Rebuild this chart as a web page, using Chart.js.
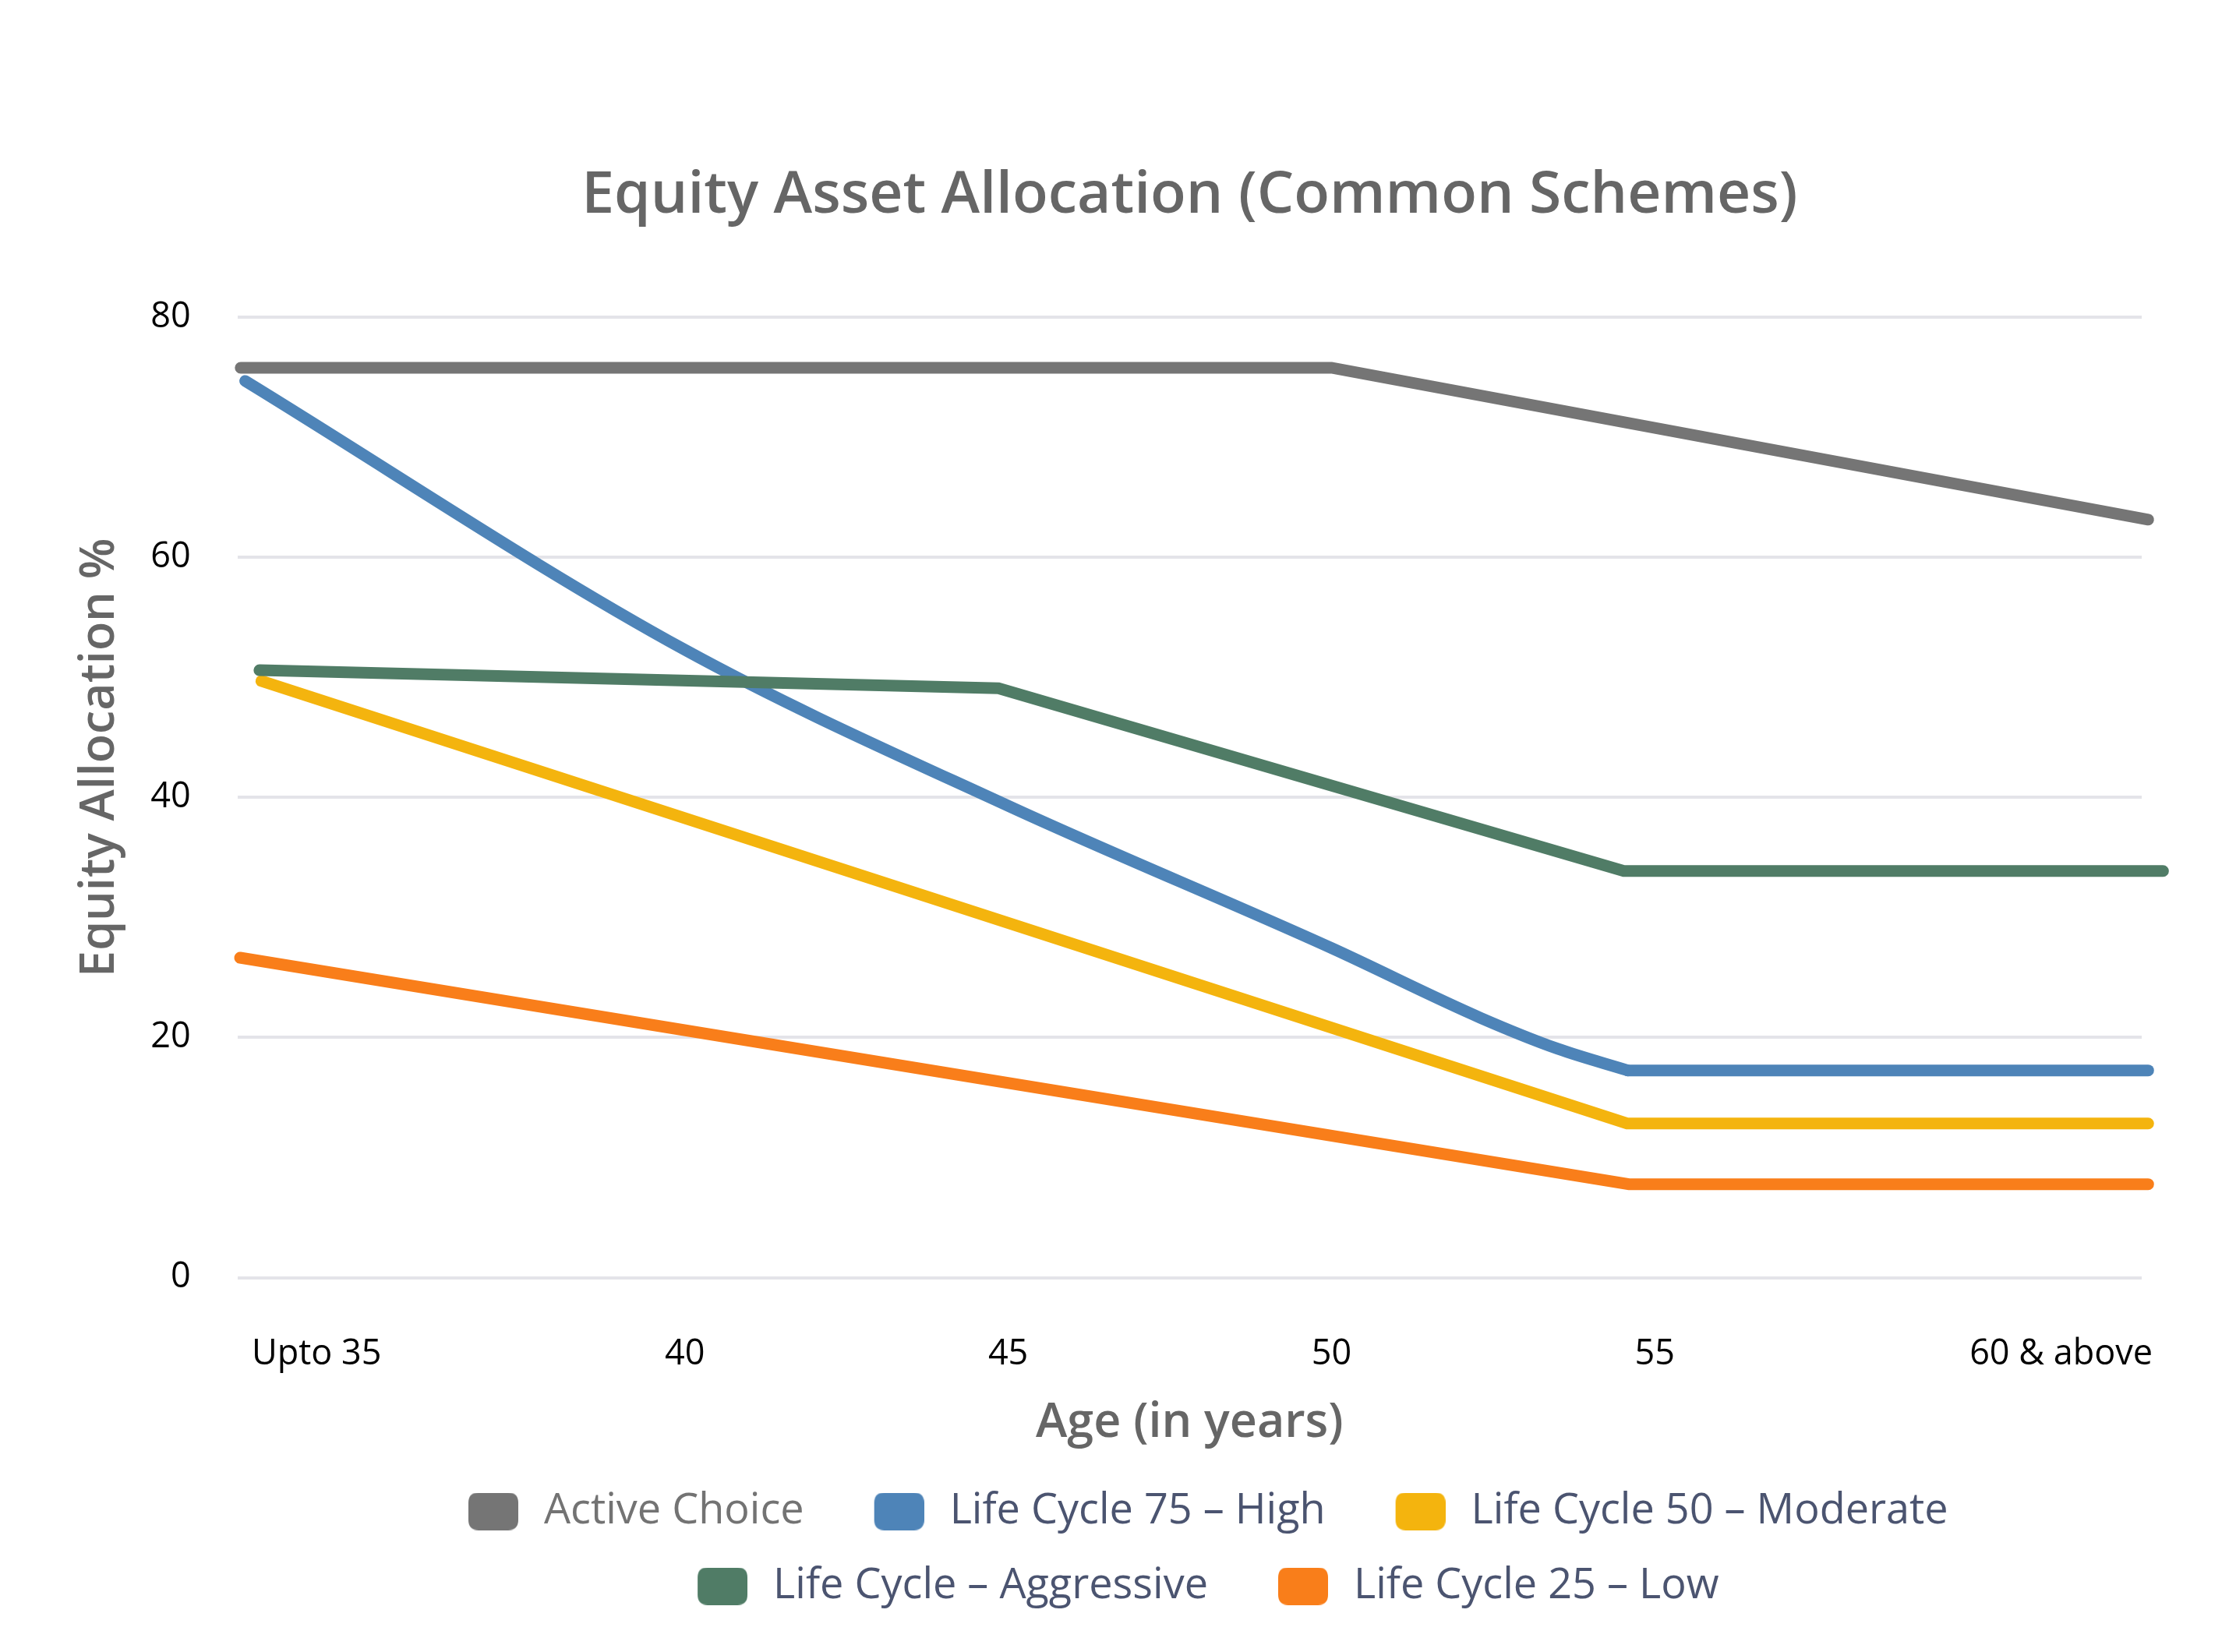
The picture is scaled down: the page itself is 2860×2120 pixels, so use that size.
<!DOCTYPE html>
<html>
<head>
<meta charset="utf-8">
<script src="https://cdn.jsdelivr.net/npm/chart.js@4.4.1/dist/chart.umd.min.js"></script>
<style>
  html, body { margin: 0; padding: 0; background: #ffffff; }
  canvas { display: block; }
</style>
</head>
<body>
<canvas id="chart" width="2860" height="2120" style="width:2860px;height:2120px"></canvas>
<script>
// ---- Data ----
const seriesLabels = ['Active Choice', 'Life Cycle 75 – High', 'Life Cycle 50 – Moderate', 'Life Cycle – Aggressive', 'Life Cycle 25 – Low'];
const xTickValues = [33.3, 40, 45, 50, 55, 62.7];
const xTickLabels = ['Upto 35', '40', '45', '50', '55', '60 & above'];
const yTickValues = [0, 20, 40, 60, 80];

const activeAges   = [33.13, 50.0, 62.63];
const activeValues = [75.8, 75.8, 63.15];

// Life Cycle 75 – High: smooth (curved) part, then the flat tail
const lc75CurveAges   = [33.2, 40, 45, 50, 52.3, 53.5, 54.58];
const lc75CurveValues = [74.7, 52.3, 39.3, 27.45, 21.65, 19.06, 17.26];
const lc75TailAges    = [54.58, 62.63];
const lc75TailValues  = [17.26, 17.26];

const lc50Ages   = [33.45, 54.57, 62.63];
const lc50Values = [49.7, 12.84, 12.84];

const aggAges   = [33.42, 44.85, 54.52, 62.86];
const aggValues = [50.6, 49.1, 33.87, 33.87];

const lc25Ages   = [33.12, 54.6, 62.63];
const lc25Values = [26.65, 7.78, 7.78];

// ---- Styling ----
const lineColors = ['#757575', '#4e84b8', '#f4b40e', '#507c66', '#f97e1a'];
const legendTextColors = ['#737373', '#4b5470', '#4b5470', '#4b5470', '#4b5470'];
const FONT = "'Open Sans', 'Noto Sans', sans-serif";

function zip(xs, ys) { return xs.map((x, i) => ({ x: x, y: ys[i] })); }

function swatch(color) {
  const pad = 42, w = 64, h = 48, r = 13;
  const c = document.createElement('canvas');
  c.width = pad + w; c.height = h;
  const g = c.getContext('2d');
  g.fillStyle = color;
  g.beginPath();
  g.moveTo(pad + r, 0);
  g.lineTo(pad + w - r, 0);
  g.quadraticCurveTo(pad + w, 0, pad + w, r);
  g.lineTo(pad + w, h - r);
  g.quadraticCurveTo(pad + w, h, pad + w - r, h);
  g.lineTo(pad + r, h);
  g.quadraticCurveTo(pad, h, pad, h - r);
  g.lineTo(pad, r);
  g.quadraticCurveTo(pad, 0, pad + r, 0);
  g.closePath();
  g.fill();
  return c;
}

// [series index, data, smooth?]
const parts = [
  [0, zip(activeAges, activeValues), false],
  [1, zip(lc75CurveAges, lc75CurveValues), true],
  [1, zip(lc75TailAges, lc75TailValues), false],
  [2, zip(lc50Ages, lc50Values), false],
  [3, zip(aggAges, aggValues), false],
  [4, zip(lc25Ages, lc25Values), false]
];

const datasets = parts.map(([s, d, smooth]) => ({
  label: seriesLabels[s],
  seriesIndex: s,
  data: d,
  borderColor: lineColors[s],
  backgroundColor: lineColors[s],
  borderWidth: 15,
  borderCapStyle: 'round',
  borderJoinStyle: 'miter',
  pointRadius: 0,
  pointHoverRadius: 0,
  fill: false,
  clip: false,
  tension: 0,
  cubicInterpolationMode: smooth ? 'monotone' : 'default',
  order: s === 3 ? -1 : 0
}));

new Chart(document.getElementById('chart'), {
  type: 'line',
  data: { datasets: datasets },
  options: {
    responsive: false,
    devicePixelRatio: 1,
    animation: false,
    events: [],
    layout: { padding: { left: 92, right: 112, top: 150, bottom: 47.5 } },
    plugins: {
      tooltip: { enabled: false },
      title: {
        display: true,
        fullSize: false,
        text: 'Equity Asset Allocation (Common Schemes)',
        color: '#666666',
        font: { family: FONT, size: 75, weight: '600' },
        padding: { top: 57, bottom: 8 }
      },
      legend: {
        display: true,
        position: 'bottom',
        fullSize: false,
        labels: {
          font: { family: FONT, size: 54 },
          usePointStyle: true,
          pointStyleWidth: 118,
          boxHeight: 48,
          padding: 42,
          generateLabels: function (chart) {
            return seriesLabels.map((label, i) => ({
              text: label,
              fillStyle: lineColors[i],
              strokeStyle: lineColors[i],
              lineWidth: 0,
              pointStyle: swatch(lineColors[i]),
              fontColor: legendTextColors[i],
              hidden: false,
              datasetIndex: chart.data.datasets.findIndex(ds => ds.seriesIndex === i)
            }));
          }
        }
      }
    },
    scales: {
      x: {
        type: 'linear',
        min: 33.08,
        max: 62.53,
        afterBuildTicks: function (scale) {
          scale.ticks = xTickValues.map(v => ({ value: v }));
        },
        ticks: {
          autoSkip: false,
          maxRotation: 0,
          minRotation: 0,
          align: 'inner',
          padding: 71.5,
          color: '#000000',
          font: { family: FONT, size: 45 },
          callback: function (value, index) { return xTickLabels[index]; }
        },
        grid: { display: false, drawTicks: false },
        border: { display: false },
        title: {
          display: true,
          text: 'Age (in years)',
          color: '#666666',
          font: { family: FONT, size: 61, weight: '600' },
          padding: { top: -46.5, bottom: 7.3 }
        }
      },
      y: {
        type: 'linear',
        min: 0,
        max: 86.64,
        afterBuildTicks: function (scale) {
          scale.ticks = yTickValues.map(v => ({ value: v }));
        },
        ticks: {
          padding: 60,
          color: '#000000',
          font: { family: FONT, size: 45 },
          callback: function (value) { return String(value); }
        },
        grid: { color: '#e4e4e9', lineWidth: 4, drawTicks: false },
        border: { display: false },
        title: {
          display: true,
          text: 'Equity Allocation %',
          color: '#666666',
          font: { family: FONT, size: 61, weight: '600' },
          padding: { top: 0, bottom: -32 }
        }
      }
    }
  }
});
</script>
</body>
</html>
